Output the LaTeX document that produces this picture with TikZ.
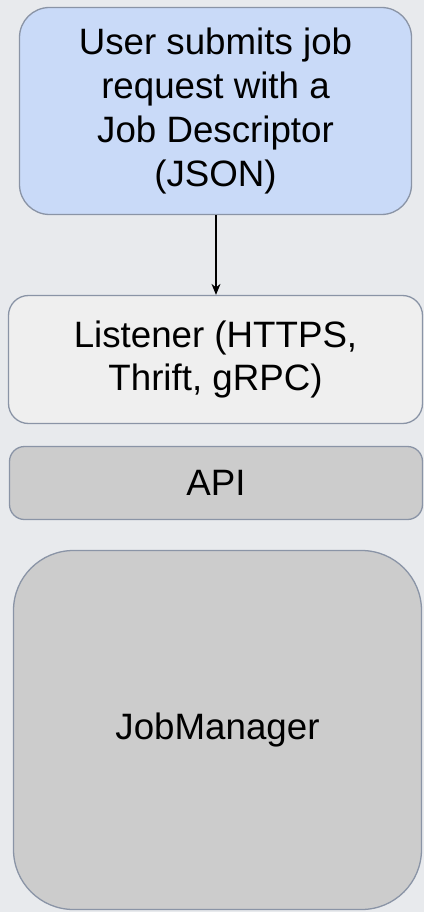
\documentclass[tikz,border=0pt]{standalone}
\usepackage{fontspec}
\setmainfont{Liberation Sans}
\usetikzlibrary{arrows.meta}
\definecolor{canvas}{HTML}{E8EAED}
\definecolor{edge}{HTML}{8A94A6}
\definecolor{userfill}{HTML}{C9DAF8}
\definecolor{listenfill}{HTML}{EFEFEF}
\definecolor{corefill}{HTML}{CCCCCC}
\tikzset{
  block/.style={draw=edge, line width=1.3pt, align=center, inner sep=0pt,
    font=\fontsize{36.7}{43.7}\selectfont, text=black},
  flow/.style={draw=black, line width=1.3pt, -{Stealth[length=11pt,width=9pt]}}
}
\begin{document}
\begin{tikzpicture}[x=1pt, y=-1pt]
  \fill[canvas] (0,0) rectangle (424,912);
  \useasboundingbox (0,0) rectangle (424,912);

  \node[block, fill=userfill, rounded corners=30pt,
        minimum width=392pt, minimum height=207pt] (user) at (215.5,111)
    {User submits job\\request with a\\Job Descriptor\\(JSON)};

  \node[block, fill=listenfill, rounded corners=20pt,
        minimum width=414pt, minimum height=128pt] (listener) at (215.5,359.5)
    {Listener (HTTPS,\\Thrift, gRPC)};

  \node[block, fill=corefill, rounded corners=15pt,
        minimum width=413pt, minimum height=73pt] (api) at (216,483)
    {API};

  \node[block, fill=corefill, rounded corners=60pt,
        minimum width=408pt, minimum height=359pt] (jobmgr) at (217.5,730)
    {JobManager};

  \draw[flow] (user.south -| 216,0) -- (listener.north -| 216,0);
\end{tikzpicture}
\end{document}
